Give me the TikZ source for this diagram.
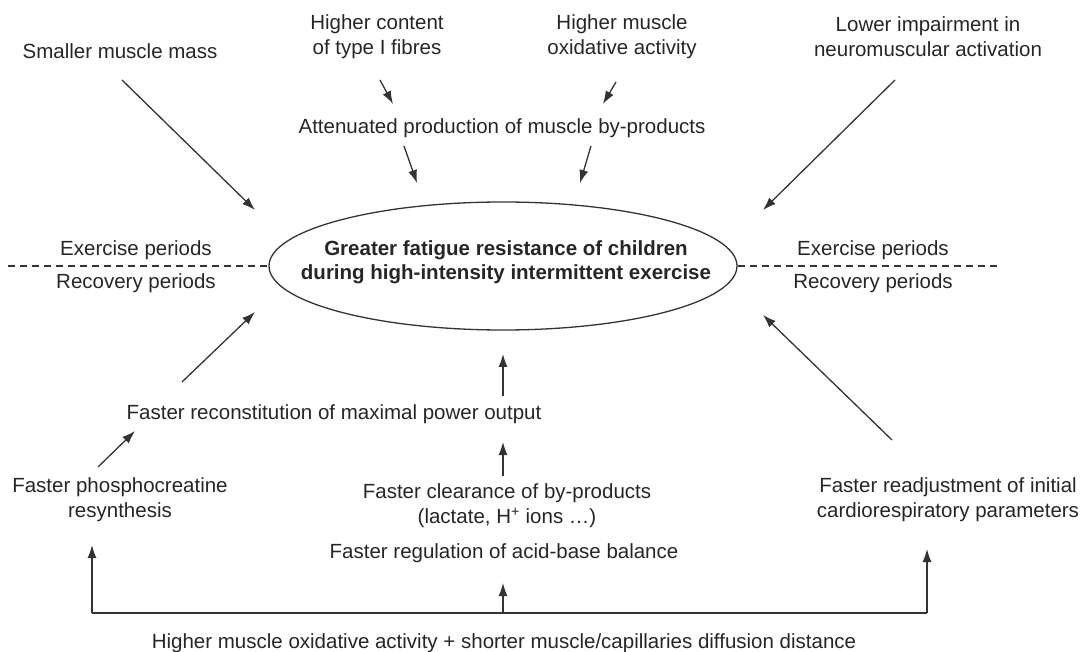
\documentclass[tikz,border=0pt]{standalone}
\usepackage{fontspec}
\setmainfont{Liberation Sans}
\usetikzlibrary{arrows.meta,shapes.geometric}
\begin{document}
\begin{tikzpicture}[x=1pt,y=-1pt,
  every node/.style={inner sep=0pt, align=center, text=black!85, font=\fontsize{20.5}{25}\selectfont},
  arr/.style={draw=black!80, line width=1.3pt, -{Latex[length=13pt,width=9pt]}},
  ln/.style={draw=black!80, line width=1.3pt},
  dsh/.style={draw=black!80, line width=1.1pt, dash pattern=on 7pt off 5pt}]
\useasboundingbox (0,0) rectangle (1082,652);
% top causes
\node (small) at (120,51) {Smaller muscle mass};
\node (type1) at (377,37) {Higher content\\of type I fibres};
\node (oxid) at (622,37) {Higher muscle\\oxidative activity};
\node (lower) at (928,37) {Lower impairment in\\neuromuscular activation};
\node (atten) at (502,128) {Attenuated production of muscle by-products};
% central ellipse
\node[ellipse, draw=black!80, line width=1.3pt, minimum width=468pt, minimum height=128pt] (goal) at (503,266) {};
\node[font=\bfseries\fontsize{20.5}{24}\selectfont] (goaltext) at (506,262) {Greater fatigue resistance of children\\during high-intensity intermittent exercise};
% period labels
\node (exL) at (136,250) {Exercise periods};
\node (reL) at (136,283) {Recovery periods};
\node (exR) at (873,250) {Exercise periods};
\node (reR) at (873,283) {Recovery periods};
\coordinate (dl) at (8,266);
\coordinate (dr) at (1000,266);
\draw[dsh] (dl) -- (goal.west);
\draw[dsh] (goal.east) -- (dr);
% bottom side
\node (recon) at (334,414) {Faster reconstitution of maximal power output};
\node (pcr) at (120,500) {Faster phosphocreatine\\resynthesis};
\node (clear) at (507,506) {Faster clearance of by-products\\(lactate, H\textsuperscript{+} ions \dots)};
\node (acid) at (504,553) {Faster regulation of acid-base balance};
\node (cardio) at (948,500) {Faster readjustment of initial\\cardiorespiratory parameters};
\node (base) at (504,643) {Higher muscle oxidative activity + shorter muscle/capillaries diffusion distance};
% coordinates for free arrow ends
\coordinate (s1) at (122,80);   \coordinate (s2) at (255,210);
\coordinate (t1) at (380,80);   \coordinate (t2) at (393,104);
\coordinate (o1) at (616,82);   \coordinate (o2) at (603,104);
\coordinate (a1) at (404,146);  \coordinate (a2) at (417,183);
\coordinate (a3) at (591,146);  \coordinate (a4) at (580,183);
\coordinate (l1) at (895,80);   \coordinate (l2) at (763,210);
\coordinate (r1) at (182,382);  \coordinate (r2) at (255,312);
\coordinate (c1) at (503,396);  \coordinate (c2) at (503,354);
\coordinate (k1) at (892,440);  \coordinate (k2) at (763,315);
\coordinate (p1) at (98,467);   \coordinate (p2) at (135,431);
\coordinate (q1) at (503,476);  \coordinate (q2) at (503,442);
\coordinate (bl) at (92,613);   \coordinate (bm) at (503,613);  \coordinate (br) at (927,613);
\coordinate (blt) at (92,545);  \coordinate (bmt) at (503,583); \coordinate (brt) at (927,549);
% arrows
\draw[arr] (s1) -- (s2);
\draw[arr] (t1) -- (t2);
\draw[arr] (o1) -- (o2);
\draw[arr] (a1) -- (a2);
\draw[arr] (a3) -- (a4);
\draw[arr] (l1) -- (l2);
\draw[arr] (r1) -- (r2);
\draw[arr] (c1) -- (c2);
\draw[arr] (k1) -- (k2);
\draw[arr] (p1) -- (p2);
\draw[arr] (q1) -- (q2);
\draw[ln] (bl) -- (br);
\draw[arr] (bl) -- (blt);
\draw[arr] (bm) -- (bmt);
\draw[arr] (br) -- (brt);
\end{tikzpicture}
\end{document}
